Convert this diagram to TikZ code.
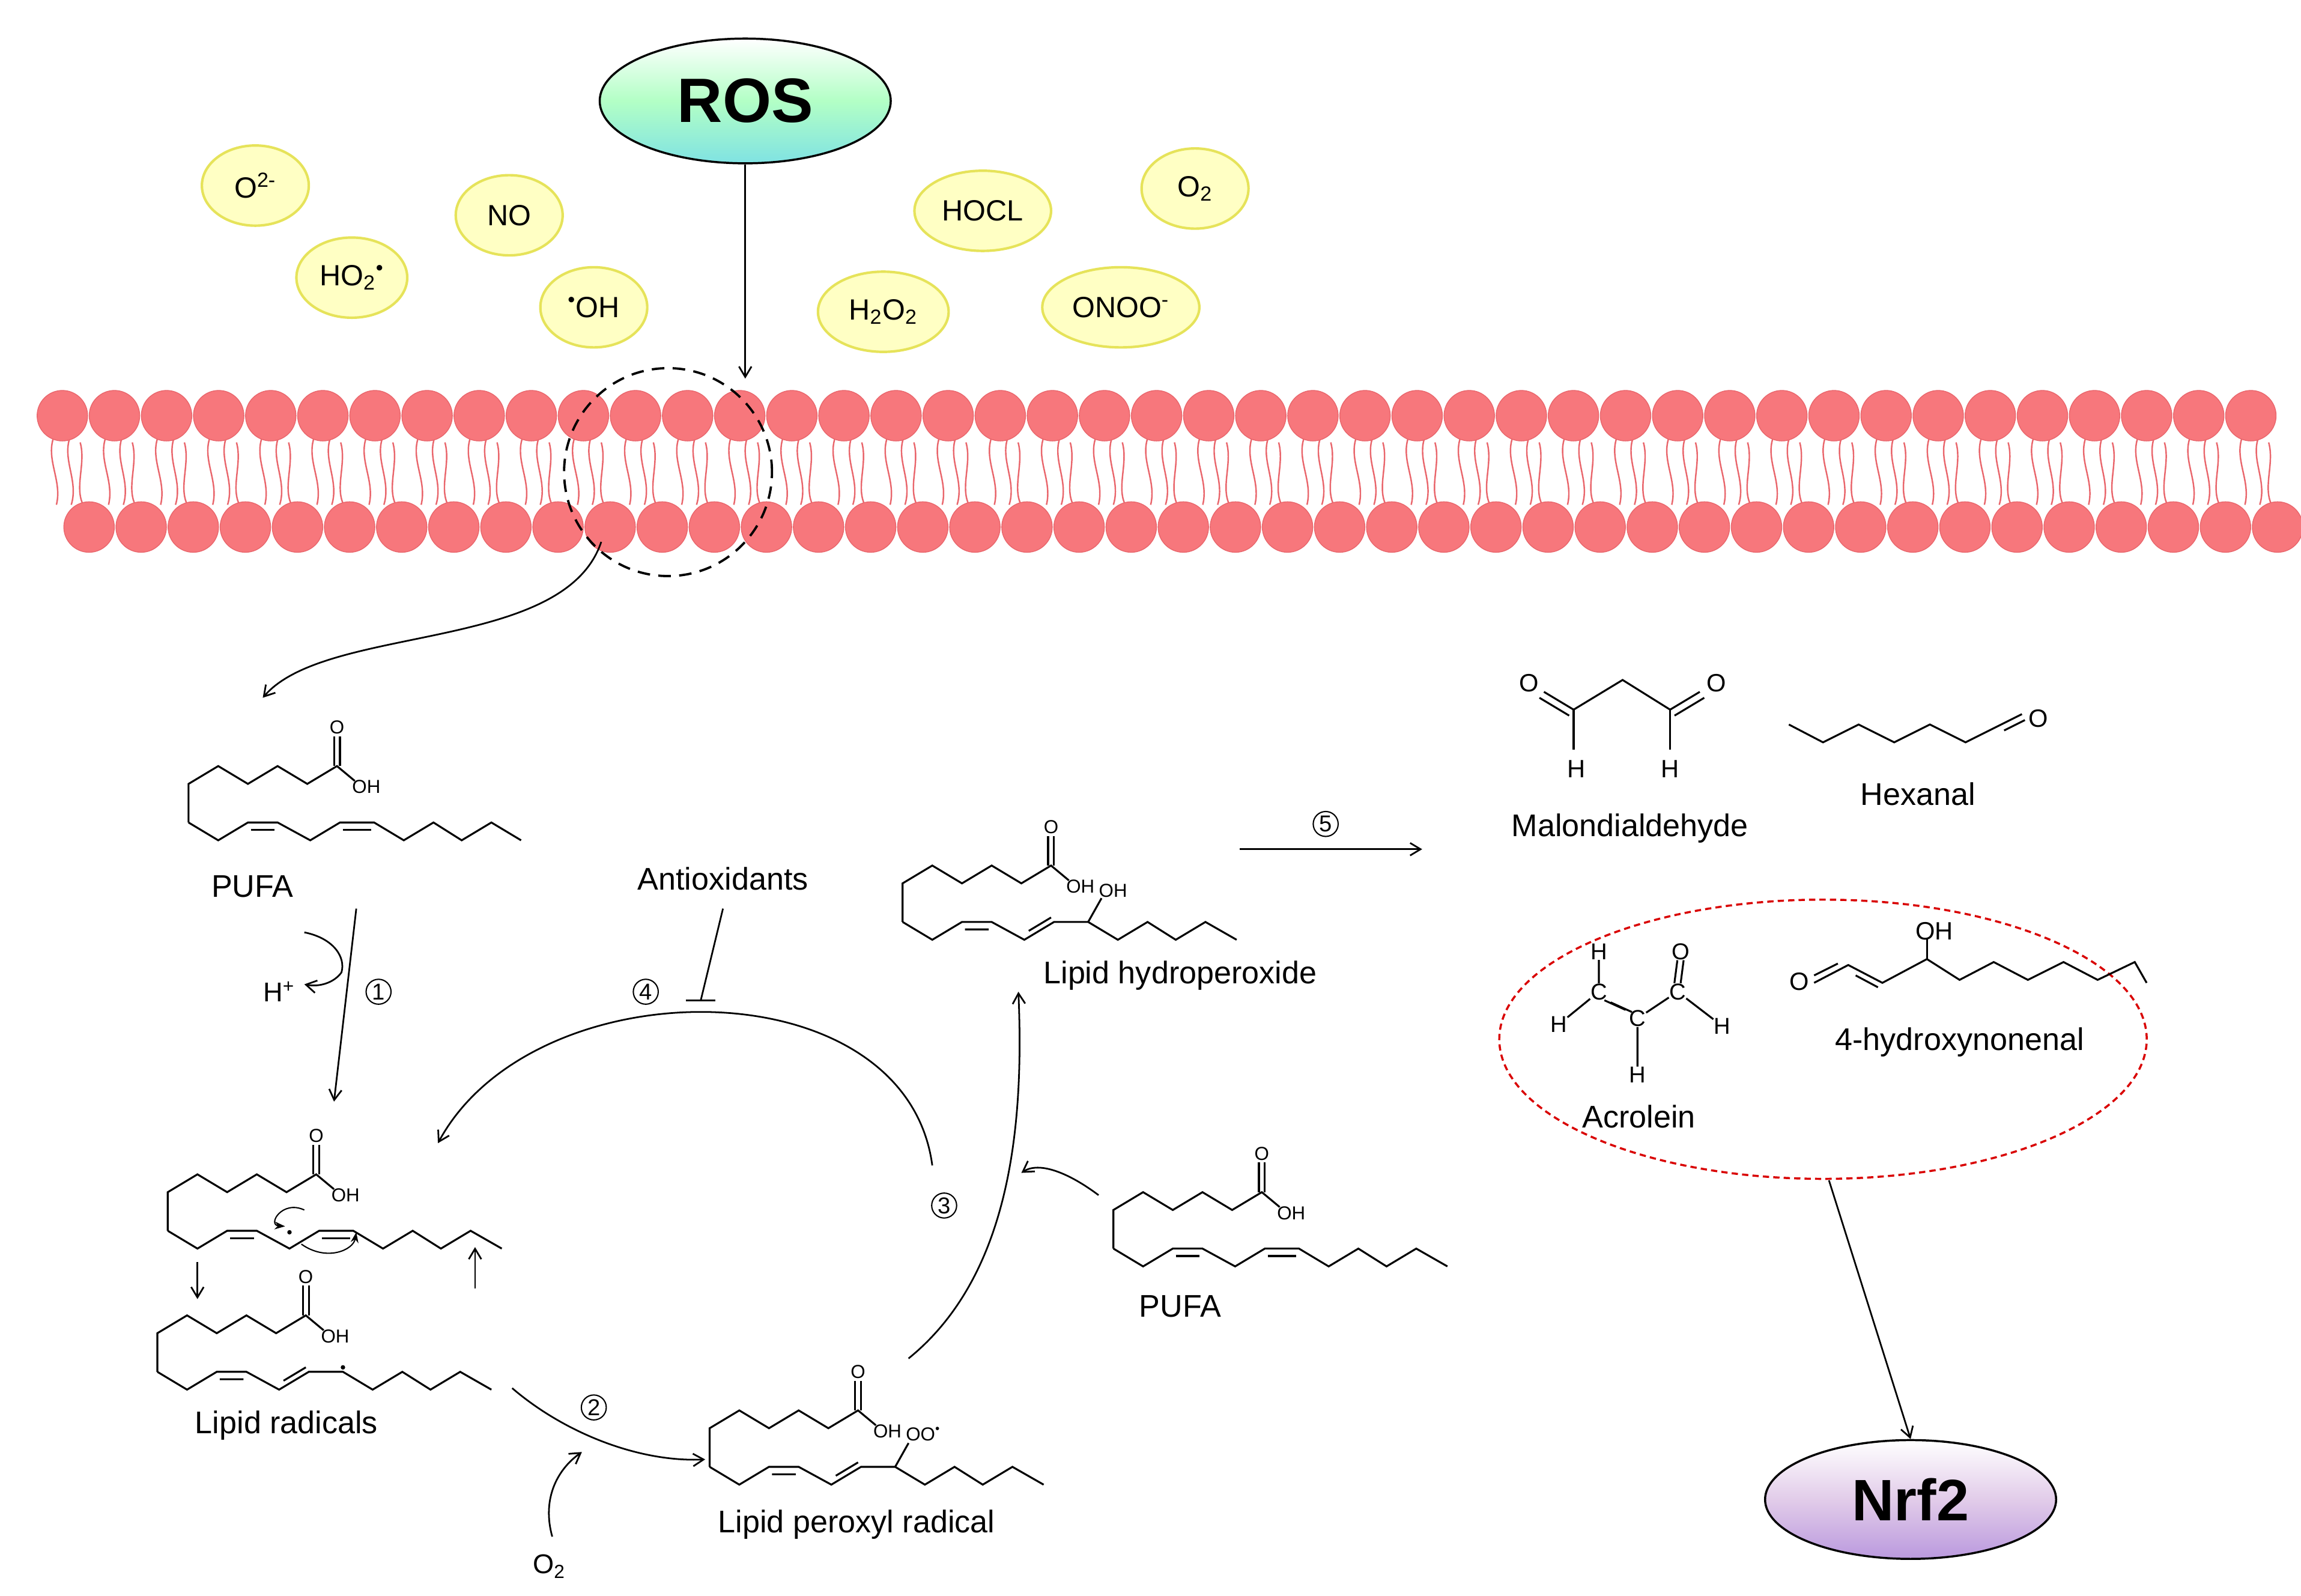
\documentclass[tikz,border=0pt]{standalone}
\usepackage{fontspec}
\setmainfont{Liberation Sans}
\usetikzlibrary{arrows.meta,shapes.geometric}
\definecolor{memb}{HTML}{F7777C}
\definecolor{membd}{HTML}{E9666C}
\definecolor{ylw}{HTML}{FFFFC4}
\definecolor{ylwd}{HTML}{E6E35A}
\tikzset{
  bond/.style={line width=0.9pt},
  atom/.style={font=\fontsize{9}{9}\selectfont,inner sep=0pt},
  lbl/.style={font=\fontsize{15}{15}\selectfont,inner sep=1pt},
  ros/.style={ellipse,draw=ylwd,line width=1.2pt,fill=ylw,minimum width=1.8cm,minimum height=1.35cm,font=\fontsize{14}{14}\selectfont},
  arrs/.style={-{Straight Barb[length=5pt,width=6pt]},line width=0.8pt},
  num/.style={circle,draw,line width=0.6pt,inner sep=0pt,minimum size=0.42cm,font=\fontsize{11}{11}\selectfont},
  pics/acid/.style={code={
    \draw[bond] (0,26)--(0,0)--(20,-12)--(40,0)--(60,-12)--(80,0)--(100,-12)--(112,-2);
    \draw[bond] (98,-12)--(98,-32) (102,-12)--(102,-32);
    \node[atom] at (100,-38) {O};
    \node[atom,anchor=west] at (110,2) {OH};
  }},
}
\begin{document}
\begin{tikzpicture}[x=0.025cm,y=-0.025cm]
\useasboundingbox (0,0) rectangle (1550,1075);
% membrane
\foreach \i in {0,...,42}{
  \pgfmathsetmacro\xx{42+35.1*\i}
  \draw[membd,line width=0.7pt] (\xx-6,295) .. controls (\xx-11,310) and (\xx,324) .. (\xx-4,340);
  \draw[membd,line width=0.7pt] (\xx+5,295) .. controls (\xx,310) and (\xx+11,324) .. (\xx+6,340);
  \pgfmathsetmacro\xb{60+35.1*\i}
  \draw[membd,line width=0.7pt] (\xb-4,340) .. controls (\xb-10,328) and (\xb-2,312) .. (\xb-6,298);
}
\foreach \i in {0,...,42}{
  \pgfmathsetmacro\xx{42+35.1*\i}
  \fill[memb,draw=membd,line width=0.4pt] (\xx,280) circle [radius=17];
  \pgfmathsetmacro\xb{60+35.1*\i}
  \fill[memb,draw=membd,line width=0.4pt] (\xb,355) circle [radius=17];
}
\node[circle,draw,line width=1.1pt,minimum size=3.5cm,dash pattern=on 6pt off 4pt] (dc) at (450,318) {};
% ROS
\node[ellipse,draw,line width=1pt,top color=white,bottom color=teal!45!cyan!50,middle color=cyan!25!green!30,minimum width=4.9cm,minimum height=2.1cm,font=\bfseries\fontsize{30}{30}\selectfont] (ros) at (502,68) {ROS};
\coordinate (memtop) at (502,255);
\draw[arrs] (ros) -- (memtop);
\node[ros] (o2m) at (172,125) {O\textsuperscript{2-}};
\node[ros] (ho2) at (237,187) {HO\textsubscript{2}\textsuperscript{\textbullet}};
\node[ros] (no) at (343,145) {NO};
\node[ros] (oh) at (400,207) {\textsuperscript{\textbullet}OH};
\node[ros,minimum width=2.3cm] (hocl) at (662,142) {HOCL};
\node[ros] (o2) at (805,127) {O\textsubscript{2}};
\node[ros,minimum width=2.2cm] (h2o2) at (595,210) {H\textsubscript{2}O\textsubscript{2}};
\node[ros,minimum width=2.5cm] (onoo) at (755,207) {ONOO\textsuperscript{-}};
% curved arrow from membrane
\coordinate (pa) at (177,470);
\draw[arrs] (405,365) .. controls (380,440) and (220,420) .. (pa);
% PUFA 1
\pic at (127,528) {acid};
\draw[bond] (127,554)--(147,566)--(167,554)--(187,554)--(209,566)--(229,554)--(252,554)--(272,566)--(292,554)--(311,566)--(331,554)--(351,566);
\draw[bond] (169,559)--(185,559) (231,559)--(250,559);
\node[lbl] (pufa1) at (170,597) {PUFA};
% step 1
\coordinate (r1s) at (240,612); \coordinate (r1e) at (225,742);
\draw[arrs] (r1s) -- (r1e);
\draw[arrs] (205,628) .. controls (225,632) and (233,645) .. (230,655) .. controls (225,662) and (215,665) .. (205,663);
\node[lbl,font=\fontsize{13}{13}\selectfont] (hp) at (188,668) {H\textsuperscript{+}};
\node[num] (n1) at (255,668) {1};
% radical structure
\pic at (113,803) {acid};
\draw[bond] (113,829)--(133,841)--(153,829)--(173,829)--(195,841)--(215,829)--(238,829)--(258,841)--(278,829)--(297,841)--(317,829)--(338,841);
\draw[bond] (155,834)--(171,834) (217,834)--(236,834);
\fill (195,830) circle [radius=1.5];
\draw[-{Stealth[length=5pt]},line width=0.6pt] (205,815) .. controls (190,808) and (180,825) .. (192,826);
\draw[-{Stealth[length=5pt]},line width=0.6pt] (203,838) .. controls (220,850) and (238,842) .. (240,830);
\coordinate (da) at (133,850); \coordinate (db) at (133,875);
\draw[arrs] (da) -- (db);
\coordinate (ua) at (320,868); \coordinate (ub) at (320,840);
\draw[arrs] (ua) -- (ub);
% lipid radicals
\pic at (106,898) {acid};
\draw[bond] (106,924)--(126,936)--(146,924)--(166,924)--(188,936)--(208,924)--(231,924)--(251,936)--(271,924)--(290,936)--(310,924)--(331,936);
\draw[bond] (148,929)--(164,929) (191,930)--(206,921);
\fill (231,921) circle [radius=1.5];
\node[lbl] (lr) at (193,960) {Lipid radicals};
% step 2
\coordinate (s2a) at (345,935); \coordinate (s2b) at (475,983);
\draw[arrs] (s2a) .. controls (380,965) and (430,985) .. (s2b);
\node[num] (n2) at (400,948) {2};
\coordinate (o2s) at (372,1035); \coordinate (o2e) at (392,978);
\draw[arrs] (o2s) .. controls (365,1010) and (375,990) .. (o2e);
\node[lbl,font=\fontsize{13}{13}\selectfont] (o2b) at (370,1055) {O\textsubscript{2}};
% lipid peroxyl radical
\pic at (478,962) {acid};
\draw[bond] (478,988)--(498,1000)--(518,988)--(538,988)--(560,1000)--(580,988)--(603,988)--(623,1000)--(643,988)--(662,1000)--(682,988)--(703,1000);
\draw[bond] (520,993)--(536,993) (563,994)--(578,985);
\draw[bond] (603,988)--(612,972);
\node[atom,anchor=west] at (610,966) {OO\textsuperscript{\textbullet}};
\node[lbl] (lpr) at (577,1027) {Lipid peroxyl radical};
% arrow to hydroperoxide
\coordinate (hpa) at (612,915); \coordinate (hpb) at (686,668);
\draw[arrs] (hpa) .. controls (680,860) and (690,760) .. (hpb);
% lipid hydroperoxide
\pic at (608,595) {acid};
\draw[bond] (608,621)--(628,633)--(648,621)--(668,621)--(690,633)--(710,621)--(733,621)--(753,633)--(773,621)--(792,633)--(812,621)--(833,633);
\draw[bond] (650,626)--(666,626) (693,627)--(708,618);
\draw[bond] (733,621)--(742,605);
\node[atom,anchor=west] at (740,600) {OH};
\node[lbl] (lhp) at (795,657) {Lipid hydroperoxide};
% PUFA 2
\pic at (750,815) {acid};
\draw[bond] (750,841)--(770,853)--(790,841)--(810,841)--(832,853)--(852,841)--(875,841)--(895,853)--(915,841)--(934,853)--(954,841)--(975,853);
\draw[bond] (792,846)--(808,846) (854,846)--(873,846);
\node[lbl] (pufa2) at (795,880) {PUFA};
\coordinate (p2a) at (740,805); \coordinate (p2b) at (688,790);
\draw[arrs] (p2a) .. controls (720,790) and (700,782) .. (p2b);
% cycle 3/4
\coordinate (c3) at (628,785); \coordinate (c4) at (295,770);
\draw[arrs] (c3) .. controls (610,650) and (360,650) .. (c4);
\node[num] (n3) at (636,812) {3};
\node[num] (n4) at (435,668) {4};
\node[lbl] (anti) at (487,592) {Antioxidants};
\coordinate (inh) at (472,674);
\draw[line width=0.8pt] (487,612) -- (inh);
\draw[line width=0.8pt] (462,674) -- (482,674);
% step 5
\coordinate (s5a) at (835,572); \coordinate (s5b) at (958,572);
\draw[arrs] (s5a) -- (s5b);
\node[num] (n5) at (893,555) {5};
% malondialdehyde
\draw[bond] (1060,478)--(1093,458)--(1125,478);
\draw[bond] (1060,478)--(1040,466) (1057,482)--(1037,470);
\draw[bond] (1125,478)--(1145,466) (1128,482)--(1148,470);
\draw[bond] (1060,478)--(1060,505) (1125,478)--(1125,505);
\node[atom,font=\fontsize{12}{12}\selectfont] at (1030,460) {O};
\node[atom,font=\fontsize{12}{12}\selectfont] at (1156,460) {O};
\node[atom,font=\fontsize{12}{12}\selectfont] at (1062,518) {H};
\node[atom,font=\fontsize{12}{12}\selectfont] at (1125,518) {H};
\node[lbl] (mda) at (1098,558) {Malondialdehyde};
% hexanal
\draw[bond] (1205,488)--(1228,500)--(1252,488)--(1276,500)--(1300,488)--(1324,500)--(1348,488);
\draw[bond] (1348,488)--(1362,481) (1350,492)--(1364,485);
\node[atom,font=\fontsize{12}{12}\selectfont] at (1373,484) {O};
\node[lbl] (hex) at (1292,535) {Hexanal};
% red dashed ellipse
\node[ellipse,draw=red!85!black,line width=1pt,dash pattern=on 3pt off 2pt,minimum width=10.9cm,minimum height=4.7cm] (red) at (1228,700) {};
% acrolein
\begin{scope}[every node/.style={atom,font=\fontsize{11}{11}\selectfont}]
\node (ac1) at (1077,668) {C};
\node (ac2) at (1103,686) {C};
\node (ac3) at (1130,668) {C};
\node (ah1) at (1077,641) {H};
\node (ah2) at (1050,690) {H};
\node (ah3) at (1103,724) {H};
\node (ao) at (1132,641) {O};
\node (ah4) at (1160,691) {H};
\end{scope}
\draw[bond] (ac1)--(ah1) (ac1)--(ah2) (ac2)--(ah3) (ac3)--(ah4) (ac2)--(ac3);
\draw[bond] ([xshift=-1.5pt]ac1.south east)--([xshift=-1.5pt]ac2.north west) ([xshift=1.5pt,yshift=-1pt]ac1.south east)--([xshift=1.5pt,yshift=-1pt]ac2.north west);
\draw[bond] ([xshift=-1.5pt]ac3.north)--([xshift=-1.5pt]ao.south) ([xshift=1.5pt]ac3.north)--([xshift=1.5pt]ao.south);
\node[lbl] (acr) at (1104,752) {Acrolein};
% 4-HNE
\draw[bond] (1222,662)--(1245,650)--(1268,662)--(1298,646)--(1320,660)--(1343,648)--(1366,660)--(1390,648)--(1413,660)--(1438,648)--(1446,662);
\draw[bond] (1222,657)--(1238,649);
\draw[bond] (1250,657)--(1265,665);
\draw[bond] (1298,646)--(1298,632);
\node[atom,font=\fontsize{12}{12}\selectfont] at (1212,661) {O};
\node[atom,font=\fontsize{12}{12}\selectfont] at (1303,627) {OH};
\node[lbl] (hne) at (1320,702) {4-hydroxynonenal};
% Nrf2
\node[ellipse,draw,line width=1pt,top color=white,bottom color=blue!35!violet!40,middle color=blue!15!violet!20,minimum width=4.9cm,minimum height=2cm,font=\bfseries\fontsize{28}{28}\selectfont] (nrf) at (1287,1010) {Nrf2};
\coordinate (na) at (1232,795);
\draw[arrs] (na) -- (nrf.north);
\end{tikzpicture}
\end{document}
